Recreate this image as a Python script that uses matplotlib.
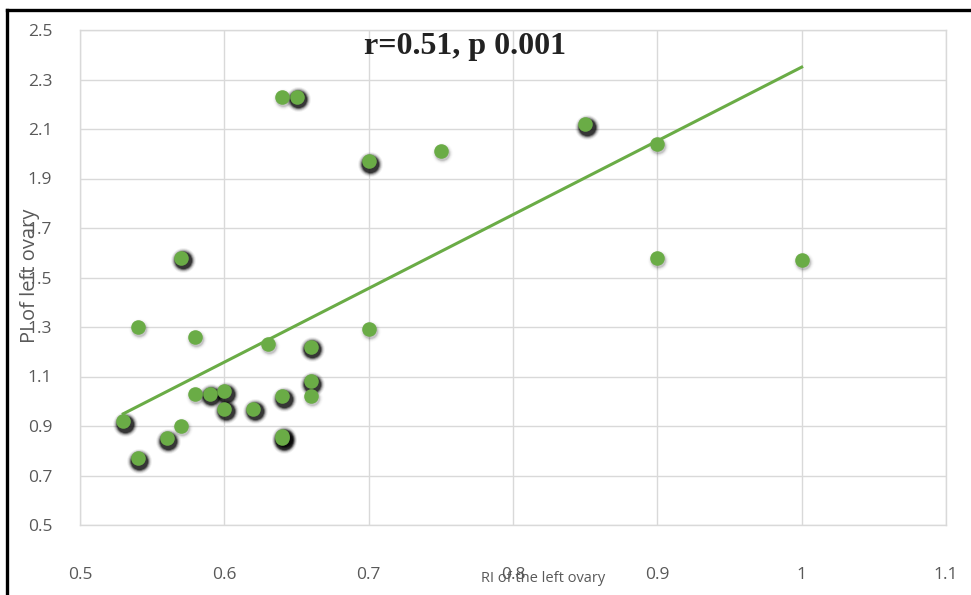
import matplotlib
matplotlib.use("Agg")
import matplotlib.pyplot as plt
import matplotlib.transforms as mtransforms
from matplotlib.lines import Line2D
import numpy as np

# RI vs PI of the left ovary
ri_left = [0.53, 0.54, 0.54, 0.56, 0.57, 0.57, 0.58, 0.58, 0.59, 0.60,
           0.60, 0.62, 0.63, 0.64, 0.64, 0.64, 0.64, 0.65, 0.66, 0.66,
           0.66, 0.70, 0.70, 0.75, 0.85, 0.90, 0.90, 1.00]
pi_left = [0.92, 0.77, 1.30, 0.85, 0.90, 1.58, 1.26, 1.03, 1.03, 1.04,
           0.97, 0.97, 1.23, 2.23, 1.02, 0.86, 0.85, 2.23, 1.22, 1.08,
           1.02, 1.97, 1.29, 2.01, 2.12, 2.04, 1.58, 1.57]
# which markers carry the heavy dark shadow
dark_shadow = [1, 1, 0, 1, 0, 1, 0, 0, 1, 1,
               1, 1, 0, 0, 1, 1, 1, 1, 1, 1,
               0, 1, 0, 0, 1, 0, 0, 0]

# trendline as drawn in the original
trend_slope = 2.98
trend_intercept = -0.63

x_ticks = [0.5, 0.6, 0.7, 0.8, 0.9, 1.0, 1.1]
x_labels = ["0.5", "0.6", "0.7", "0.8", "0.9", "1", "1.1"]
y_ticks = [0.5, 0.7, 0.9, 1.1, 1.3, 1.5, 1.7, 1.9, 2.1, 2.3, 2.5]

green = "#6aac46"
tick_col = "#595959"

fig = plt.figure(figsize=(9.71, 5.95), dpi=100)
ax = fig.add_axes([80 / 971, 1 - 525 / 595, 866 / 971, 495 / 595])

ri = np.array(ri_left)
pi = np.array(pi_left)
dark = np.array(dark_shadow, dtype=bool)

# blurred shadows behind the markers
for scale, a in [(2.9, 0.06), (2.45, 0.11), (2.05, 0.2), (1.7, 0.35), (1.4, 0.5)]:
    sh = mtransforms.offset_copy(ax.transData, fig=fig, x=1.5, y=-2.5, units="dots")
    ax.scatter(ri[dark], pi[dark], s=110 * scale, color="black", alpha=a,
               linewidths=0, transform=sh, zorder=2)
    light = mtransforms.offset_copy(ax.transData, fig=fig, x=1, y=-2, units="dots")
    ax.scatter(ri[~dark], pi[~dark], s=110 * scale * 0.75, color="black", alpha=a * 0.2,
               linewidths=0, transform=light, zorder=2)

ax.scatter(ri, pi, s=110, color=green, linewidths=0, zorder=3)

# trendline
xl = np.array([ri.min(), ri.max()])
ax.plot(xl, trend_slope * xl + trend_intercept, color=green, lw=2.2, zorder=4)

ax.set_xlim(0.5, 1.1)
ax.set_ylim(0.5, 2.5)
ax.set_xticks(x_ticks)
ax.set_xticklabels(x_labels)
ax.set_yticks(y_ticks)
ax.set_yticklabels([f"{v:.1f}" for v in y_ticks])
ax.tick_params(axis="both", length=0, labelsize=12.5, labelcolor=tick_col)
ax.tick_params(axis="x", pad=30)
ax.tick_params(axis="y", pad=20)
for lab in ax.get_xticklabels() + ax.get_yticklabels():
    lab.set_fontfamily("Open Sans")

ax.grid(True, color="#d9d9d9", lw=1)
ax.set_axisbelow(True)
for sp in ax.spines.values():
    sp.set_color("#d9d9d9")
    sp.set_linewidth(1)

ax.text(0.444, 0.966, "r=0.51, p 0.001", transform=ax.transAxes, ha="center", va="center",
        fontsize=23, fontweight="bold", family="Liberation Serif", color="#222222")

fig.text(30 / 971, 1 - 276 / 595, "PI of left ovary", rotation=90, ha="center", va="center",
         fontsize=14.5, color=tick_col, family="Open Sans")
fig.text(543 / 971, 1 - 578 / 595, "RI of the left ovary", ha="center", va="center",
         fontsize=10.5, color=tick_col, family="Open Sans")

# outer frame (top and left only)
fig.add_artist(Line2D([6.5 / 971, 1], [1 - 10 / 595, 1 - 10 / 595], color="black", lw=2.4,
                      transform=fig.transFigure))
fig.add_artist(Line2D([6.5 / 971, 6.5 / 971], [0, 1 - 10 / 595], color="black", lw=2.4,
                      transform=fig.transFigure))

fig.savefig("out.png", dpi=100)
